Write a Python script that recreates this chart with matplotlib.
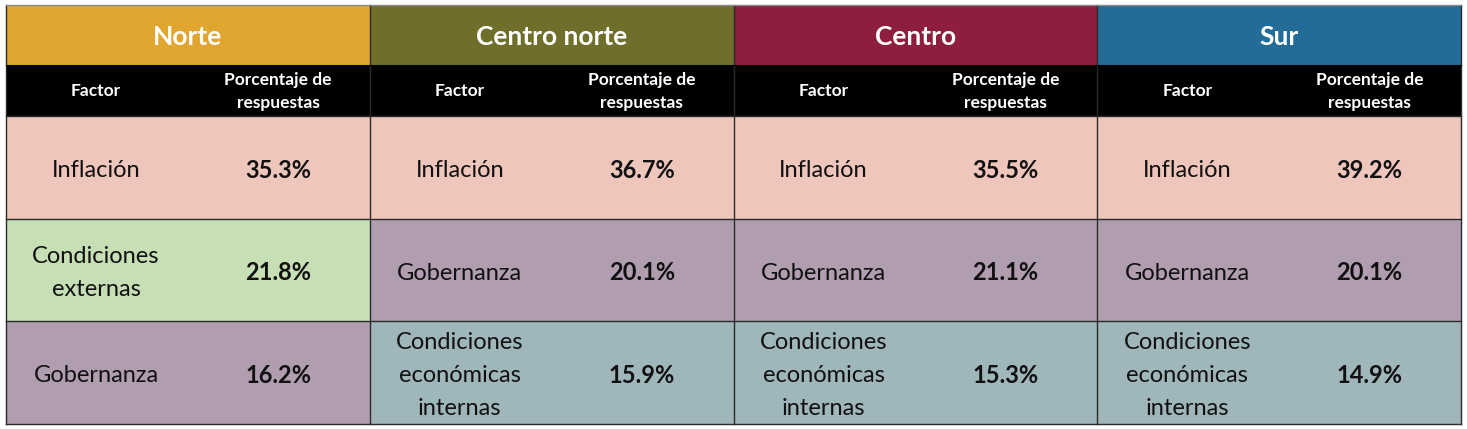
import matplotlib
matplotlib.use("Agg")
import matplotlib.pyplot as plt
from matplotlib.patches import Rectangle

regions = ["Norte", "Centro norte", "Centro", "Sur"]
region_colors = ["#E0A630", "#6F6F2B", "#8E1E3D", "#246C98"]
col_headers = ["Factor", "Porcentaje de\nrespuestas"]

factors = [
    ["Inflación", "Condiciones\nexternas", "Gobernanza"],
    ["Inflación", "Gobernanza", "Condiciones\neconómicas\ninternas"],
    ["Inflación", "Gobernanza", "Condiciones\neconómicas\ninternas"],
    ["Inflación", "Gobernanza", "Condiciones\neconómicas\ninternas"],
]
percentages = [
    [35.3, 21.8, 16.2],
    [36.7, 20.1, 15.9],
    [35.5, 21.1, 15.3],
    [39.2, 20.1, 14.9],
]
factor_colors = {
    "Inflación": "#EEC6BB",
    "Condiciones\nexternas": "#C6DFB5",
    "Gobernanza": "#B19DB0",
    "Condiciones\neconómicas\ninternas": "#9FB6BB",
}

W, H = 1467, 429
fig = plt.figure(figsize=(W / 100, H / 100), dpi=100)
ax = fig.add_axes([0, 0, 1, 1])
ax.set_xlim(0, W)
ax.set_ylim(H, 0)
ax.axis("off")

FONT = "Lato"
x0, x1 = 6, 1461
block_w = (x1 - x0) / 4
factor_c = 90
pct_c = 272
y_head = (5, 65)
y_sub = (65, 116)
row_edges = [116, 219, 321, 424]
line_c = "#2a2a2a"

for b, reg in enumerate(regions):
    bx = x0 + b * block_w
    # region header
    ax.add_patch(Rectangle((bx, y_head[0]), block_w, y_head[1] - y_head[0],
                           facecolor=region_colors[b], edgecolor="none"))
    ax.text(bx + block_w / 2, sum(y_head) / 2 + 2, reg, color="white",
            fontsize=19, fontweight="bold", family=FONT, ha="center", va="center")
    # sub header
    ax.add_patch(Rectangle((bx, y_sub[0]), block_w, y_sub[1] - y_sub[0],
                           facecolor="black", edgecolor="none"))
    ax.text(bx + factor_c, sum(y_sub) / 2 + 1, col_headers[0], color="white",
            fontsize=12.5, fontweight="bold", family=FONT, ha="center", va="center")
    ax.text(bx + pct_c, sum(y_sub) / 2 + 1,
            col_headers[1], color="white", fontsize=12.5, fontweight="bold",
            family=FONT, ha="center", va="center", linespacing=1.55)
    for r in range(3):
        ya, yb = row_edges[r], row_edges[r + 1]
        f = factors[b][r]
        ax.add_patch(Rectangle((bx, ya), block_w, yb - ya,
                               facecolor=factor_colors[f], edgecolor="none"))
        ax.text(bx + factor_c, (ya + yb) / 2 + 3, f, color="#111111",
                fontsize=17, family=FONT, ha="center", va="center",
                linespacing=1.7)
        ax.text(bx + pct_c, (ya + yb) / 2 + 3,
                f"{percentages[b][r]:.1f}%", color="#111111", fontsize=17,
                fontweight="bold", family=FONT, ha="center", va="center")

# grid lines
for b in range(5):
    bx = x0 + b * block_w
    ax.plot([bx, bx], [y_head[0], row_edges[-1]], color=line_c, lw=1.0)
for y in row_edges:
    ax.plot([x0, x1], [y, y], color=line_c, lw=1.0)
ax.plot([x0, x1], [y_head[0], y_head[0]], color="#888888", lw=1.0)
ax.plot([x0, x1], [y_head[1], y_head[1]], color="black", lw=0.8)

fig.savefig("out.png", dpi=100, facecolor="white")
